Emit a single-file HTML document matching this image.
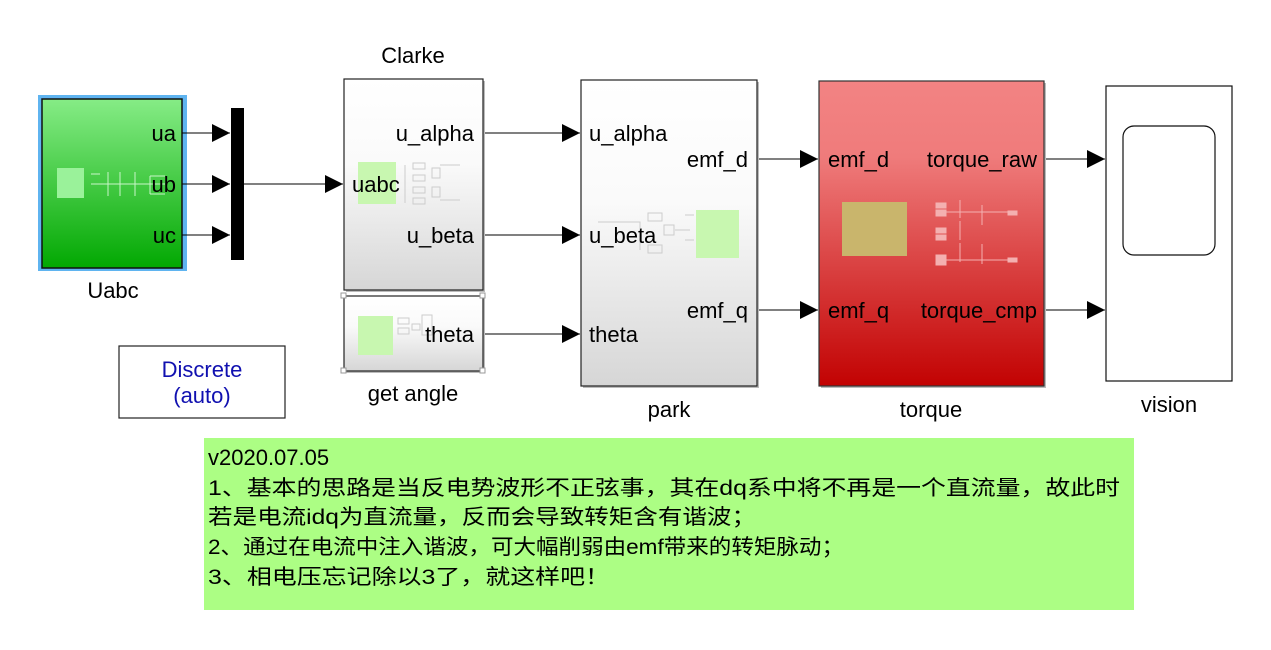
<!DOCTYPE html>
<html><head><meta charset="utf-8"><style>
html,body{margin:0;padding:0;background:#fff;width:1271px;height:650px;overflow:hidden}
svg{display:block}
text{font-family:"Liberation Sans","Noto Sans CJK SC",sans-serif;font-size:22px;fill:#000}
.cn{font-family:"Liberation Sans","Noto Sans CJK SC",sans-serif;font-size:21px}
</style></head><body>
<svg width="1271" height="650" viewBox="0 0 1271 650" xmlns="http://www.w3.org/2000/svg">
<defs>
<linearGradient id="g" x1="0" y1="0" x2="0" y2="1"><stop offset="0" stop-color="#86ec86"/><stop offset="1" stop-color="#02a802"/></linearGradient>
<linearGradient id="w" x1="0" y1="0" x2="0" y2="1"><stop offset="0" stop-color="#ffffff"/><stop offset="0.4" stop-color="#fafafa"/><stop offset="1" stop-color="#d6d6d6"/></linearGradient>
<linearGradient id="r" x1="0" y1="0" x2="0" y2="1"><stop offset="0" stop-color="#f38383"/><stop offset="0.25" stop-color="#ef7b7b"/><stop offset="1" stop-color="#c20202"/></linearGradient>
<marker id="a" viewBox="0 0 18 18" refX="18" refY="9" markerWidth="18" markerHeight="18" markerUnits="userSpaceOnUse" orient="auto"><path d="M0,0L18,9L0,18z" fill="#000"/></marker>
</defs>

<!-- Uabc -->
<rect x="38" y="95" width="149" height="176" fill="#5fb4f0"/>
<rect x="42" y="99" width="140" height="169" fill="url(#g)" stroke="#111" stroke-width="1.5"/>
<rect x="57" y="168" width="27" height="30" fill="#9af29a"/>
<g stroke="#c8f5c8" stroke-width="1" fill="none">
<line x1="91" y1="174" x2="100" y2="174"/><line x1="91" y1="184" x2="100" y2="184"/>
<path d="M100 184 H165 M108 172 V196 M120 172 V196 M135 172 V196 M150 176 V194 M150 176 H165 M150 194 H165"/>
</g>
<text x="176" y="141" text-anchor="end">ua</text>
<text x="176" y="192" text-anchor="end">ub</text>
<text x="176" y="243" text-anchor="end">uc</text>
<text x="113" y="298" text-anchor="middle">Uabc</text>

<!-- Mux -->
<rect x="231" y="108" width="13" height="152" fill="#000"/>
<g stroke="#000" stroke-width="1" fill="none">
<line x1="182" y1="133" x2="230" y2="133" marker-end="url(#a)"/>
<line x1="182" y1="184" x2="230" y2="184" marker-end="url(#a)"/>
<line x1="182" y1="235" x2="230" y2="235" marker-end="url(#a)"/>
<line x1="244" y1="184" x2="343" y2="184" marker-end="url(#a)"/>
<line x1="483" y1="133" x2="580" y2="133" marker-end="url(#a)"/>
<line x1="483" y1="235" x2="580" y2="235" marker-end="url(#a)"/>
<line x1="483" y1="334" x2="580" y2="334" marker-end="url(#a)"/>
<line x1="757" y1="159" x2="818" y2="159" marker-end="url(#a)"/>
<line x1="757" y1="310" x2="818" y2="310" marker-end="url(#a)"/>
<line x1="1044" y1="159" x2="1105" y2="159" marker-end="url(#a)"/>
<line x1="1044" y1="310" x2="1105" y2="310" marker-end="url(#a)"/>
</g>

<!-- Clarke -->
<text x="413" y="63" text-anchor="middle">Clarke</text>
<rect x="346" y="81" width="139" height="211" fill="#bbb"/>
<rect x="344" y="79" width="139" height="211" fill="url(#w)" stroke="#222" stroke-width="1.2"/>
<rect x="358" y="162" width="38" height="42" fill="#c8f7b0"/>
<g stroke="#ccc" fill="none"><rect x="413" y="163" width="12" height="6"/><rect x="413" y="175" width="12" height="6"/><rect x="413" y="187" width="12" height="6"/><rect x="413" y="198" width="12" height="6"/><rect x="432" y="168" width="8" height="10"/><rect x="432" y="187" width="8" height="10"/><path d="M405 165 V203 M440 165 H460 M440 200 H460"/></g>
<text x="474" y="141" text-anchor="end">u_alpha</text>
<text x="352" y="192">uabc</text>
<text x="474" y="243" text-anchor="end">u_beta</text>

<!-- get angle -->
<rect x="346" y="298" width="139" height="75" fill="#bbb"/>
<rect x="344" y="296" width="139" height="75" fill="url(#w)" stroke="#222" stroke-width="1.2"/>
<g fill="#fff" stroke="#999"><rect x="341" y="293" width="5" height="5"/><rect x="480" y="293" width="5" height="5"/><rect x="341" y="368" width="5" height="5"/><rect x="480" y="368" width="5" height="5"/></g>
<rect x="358" y="316" width="35" height="39" fill="#c8f7b0"/>
<g stroke="#ccc" fill="none"><rect x="398" y="318" width="11" height="6"/><rect x="398" y="328" width="11" height="6"/><rect x="422" y="315" width="10" height="20"/><rect x="412" y="324" width="8" height="6"/></g>
<text x="474" y="342" text-anchor="end">theta</text>
<text x="413" y="401" text-anchor="middle">get angle</text>

<!-- Discrete -->
<rect x="119" y="346" width="166" height="72" fill="#fff" stroke="#222" stroke-width="1.2"/>
<text x="202" y="377" text-anchor="middle" style="fill:#1010b0">Discrete</text>
<text x="202" y="403" text-anchor="middle" style="fill:#1010b0">(auto)</text>

<!-- park -->
<rect x="583" y="82" width="176" height="306" fill="#bbb"/>
<rect x="581" y="80" width="176" height="306" fill="url(#w)" stroke="#222" stroke-width="1.2"/>
<rect x="696" y="210" width="43" height="48" fill="#c8f7b0"/>
<g stroke="#ccc" fill="none"><rect x="648" y="213" width="14" height="8"/><rect x="648" y="245" width="14" height="8"/><rect x="664" y="225" width="10" height="10"/><path d="M598 222 H640 V250 M675 230 H690 M685 215 H694 M685 240 H694"/></g>
<text x="589" y="141">u_alpha</text>
<text x="589" y="243">u_beta</text>
<text x="589" y="342">theta</text>
<text x="748" y="167" text-anchor="end">emf_d</text>
<text x="748" y="318" text-anchor="end">emf_q</text>
<text x="669" y="417" text-anchor="middle">park</text>

<!-- torque -->
<rect x="821" y="83" width="225" height="305" fill="#bbb"/>
<rect x="819" y="81" width="225" height="305" fill="url(#r)" stroke="#333" stroke-width="1.2"/>
<rect x="842" y="202" width="65" height="54" fill="#c9b56c"/>
<g stroke="#f4b0b0" fill="#f4b0b0"><rect x="936" y="203" width="10" height="5"/><rect x="936" y="210" width="10" height="6"/><rect x="936" y="228" width="10" height="5"/><rect x="936" y="235" width="10" height="5"/><rect x="936" y="255" width="10" height="10"/><rect x="1008" y="211" width="9" height="4"/><rect x="1008" y="258" width="9" height="4"/><path d="M960 200V218M960 221V240M960 243V262M982 205V225M982 244V264M946 212H1008M946 260H1008" fill="none"/></g>
<text x="828" y="167">emf_d</text>
<text x="828" y="318">emf_q</text>
<text x="1037" y="167" text-anchor="end">torque_raw</text>
<text x="1037" y="318" text-anchor="end">torque_cmp</text>
<text x="931" y="417" text-anchor="middle">torque</text>

<!-- vision -->
<rect x="1106" y="86" width="126" height="295" fill="#fff" stroke="#111" stroke-width="1.2"/>
<rect x="1123" y="126" width="92" height="129" rx="11" fill="#fff" stroke="#111" stroke-width="1.2"/>
<text x="1169" y="412" text-anchor="middle">vision</text>

<!-- note -->
<rect x="204" y="438" width="930" height="172" fill="#acfe84"/>
<text x="208" y="465">v2020.07.05</text>
<text class="cn" x="208" y="495" textLength="912" lengthAdjust="spacingAndGlyphs">1、基本的思路是当反电势波形不正弦事，其在dq系中将不再是一个直流量，故此时</text>
<text class="cn" x="208" y="524" textLength="548" lengthAdjust="spacingAndGlyphs">若是电流idq为直流量，反而会导致转矩含有谐波；</text>
<text class="cn" x="208" y="554" textLength="636" lengthAdjust="spacingAndGlyphs">2、通过在电流中注入谐波，可大幅削弱由emf带来的转矩脉动；</text>
<text class="cn" x="208" y="584" textLength="402" lengthAdjust="spacingAndGlyphs">3、相电压忘记除以3了，就这样吧！</text>
</svg>
</body></html>
